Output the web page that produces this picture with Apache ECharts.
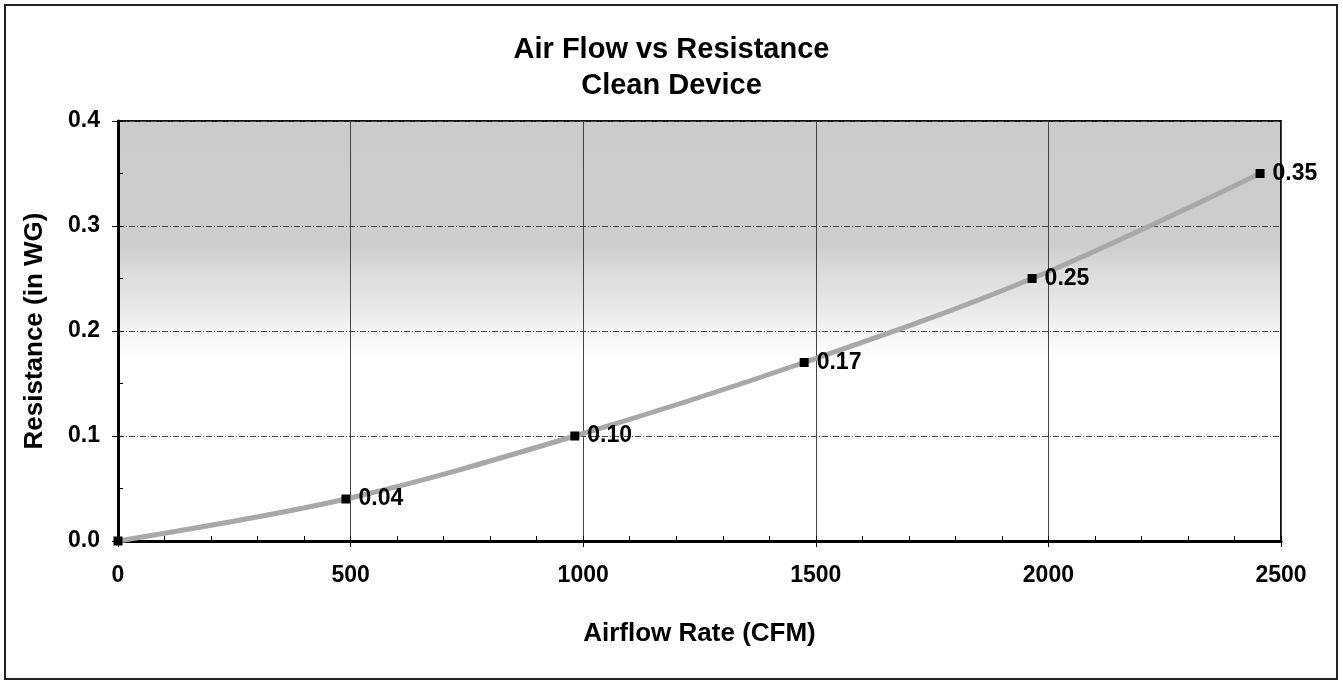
<!DOCTYPE html>
<html>
<head>
<meta charset="utf-8">
<script src="https://cdn.jsdelivr.net/npm/echarts@6/dist/echarts.min.js"></script>
<style>
  html, body { margin: 0; padding: 0; background: #fff; }
  #frame { position: absolute; left: 4px; top: 4px; width: 1334px; height: 676px; border: 2px solid #222; box-sizing: border-box; }
  #chart { position: absolute; left: 0; top: 0; width: 1343px; height: 683px; }
</style>
</head>
<body>
<div id="frame"></div>
<div id="chart"></div>
<script>
// airflow (CFM) vs resistance (in WG)
var airflow = [0, 490, 982, 1475, 1965, 2455];
var resistance = [0.0, 0.04, 0.10, 0.17, 0.25, 0.35];
var pointLabels = ['', '0.04', '0.10', '0.17', '0.25', '0.35'];

var font = 'Liberation Sans, Arial, sans-serif';

var chart = echarts.init(document.getElementById('chart'));

var option = {
    animation: false,
    title: {
        text: 'Air Flow vs Resistance\nClean Device',
        left: 'center',
        top: 27,
        textStyle: { fontFamily: font, fontSize: 29, fontWeight: 'bold', color: '#000', lineHeight: 36 }
    },
    grid: {
        left: 118, right: 62, top: 121, bottom: 142,
        show: true,
        borderColor: '#111',
        borderWidth: 2,
        backgroundColor: new echarts.graphic.LinearGradient(0, 0, 0, 1, [
            { offset: 0, color: '#cbcbcb' },
            { offset: 0.3, color: '#cecece' },
            { offset: 0.36, color: '#dcdcdc' },
            { offset: 0.43, color: '#e6e6e6' },
            { offset: 0.5, color: '#f5f5f5' },
            { offset: 0.57, color: '#ffffff' },
            { offset: 1, color: '#ffffff' }
        ])
    },
    xAxis: [{
        type: 'value',
        min: 0, max: 2500, interval: 500,
        name: 'Airflow Rate (CFM)',
        nameLocation: 'middle',
        nameGap: 80,
        nameTextStyle: { fontFamily: font, fontSize: 26, fontWeight: 'bold', color: '#000' },
        axisLine: { lineStyle: { color: '#000', width: 3 } },
        axisTick: { show: true, length: 6, lineStyle: { color: '#000' } },
        axisLabel: {
            fontFamily: font, fontSize: 23, fontWeight: 'bold', color: '#000', margin: 23,
            formatter: function (v) { return String(v); }
        },
        splitLine: { show: true, lineStyle: { color: '#444', width: 1 } }
    }, {
        type: 'value',
        min: 0, max: 2500, interval: 100,
        position: 'bottom',
        axisLine: { show: false },
        axisTick: { show: true, inside: true, length: 5, lineStyle: { color: '#000' } },
        axisLabel: { show: false },
        splitLine: { show: false }
    }],
    yAxis: [{
        type: 'value',
        min: 0, max: 0.4, interval: 0.1,
        name: 'Resistance (in WG)',
        nameLocation: 'middle',
        nameGap: 70,
        nameTextStyle: { fontFamily: font, fontSize: 26, fontWeight: 'bold', color: '#000' },
        axisLine: { show: true, lineStyle: { color: '#000', width: 3 } },
        axisTick: { show: true, length: 6, lineStyle: { color: '#000' } },
        axisLabel: {
            fontFamily: font, fontSize: 23, fontWeight: 'bold', color: '#000', margin: 18,
            formatter: function (v) { return v.toFixed(1); }
        },
        splitLine: { show: true, lineStyle: { color: '#444', width: 1, type: [6, 2, 1, 2] } }
    }, {
        type: 'value',
        min: 0, max: 0.4, interval: 0.05,
        position: 'left',
        axisLine: { show: false },
        axisTick: { show: true, inside: true, length: 5, lineStyle: { color: '#000' } },
        axisLabel: { show: false },
        splitLine: { show: false }
    }],
    series: [{
        type: 'line',
        xAxisIndex: 0,
        yAxisIndex: 0,
        data: airflow.map(function (x, i) { return [x, resistance[i]]; }),
        smooth: 0.35,
        lineStyle: { color: '#a8a8a8', width: 5 },
        symbol: 'rect',
        symbolSize: 9,
        itemStyle: { color: '#000' },
        label: {
            show: true,
            position: 'right',
            distance: 8,
            fontFamily: font, fontSize: 23, fontWeight: 'bold', color: '#000',
            formatter: function (p) { return pointLabels[p.dataIndex]; }
        },
        z: 5
    }]
};

chart.setOption(option);
</script>
</body>
</html>
